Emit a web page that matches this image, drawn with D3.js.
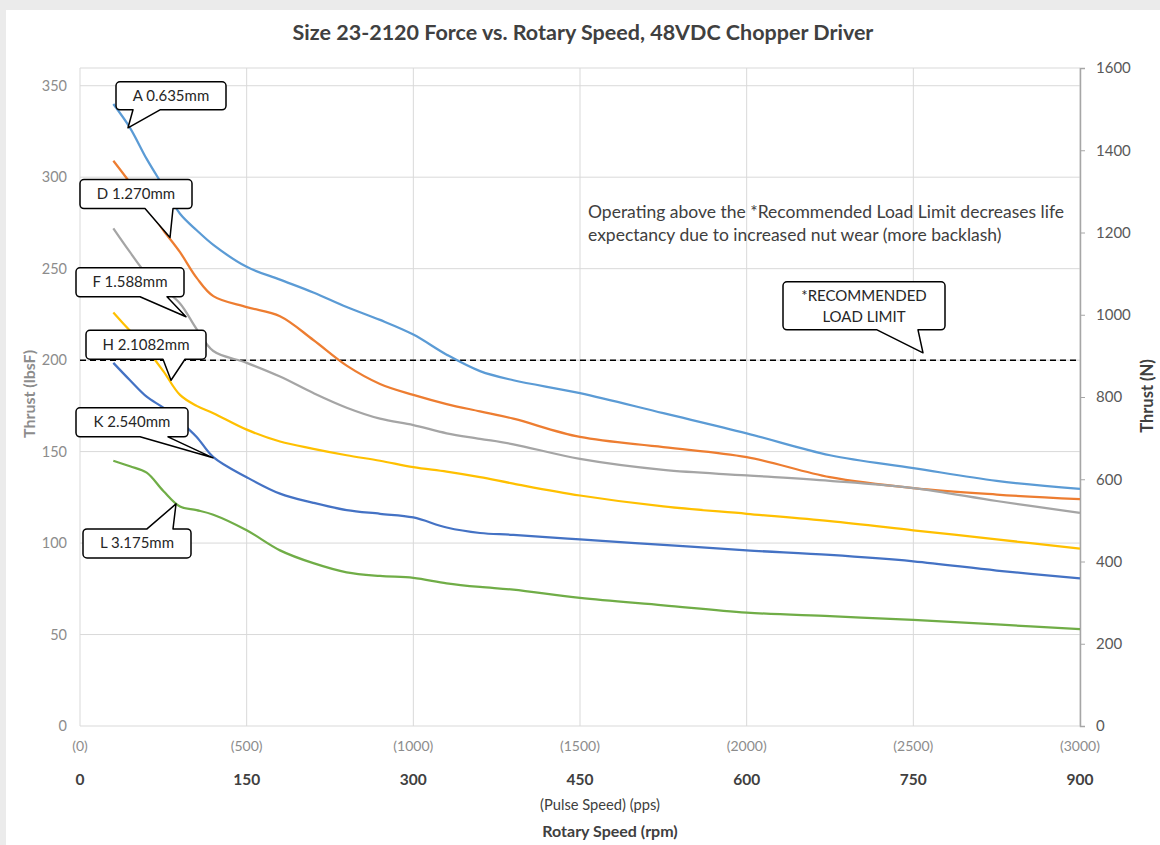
<!DOCTYPE html>
<html>
<head>
<meta charset="utf-8">
<script src="https://cdn.jsdelivr.net/npm/d3@7"></script>
<style>
  html, body { margin: 0; padding: 0; background: #ebebeb; }
  #chart { position: absolute; left: 6px; top: 10px; width: 1154px; height: 835px; background: #fff; }
  text { font-family: Lato, "Open Sans", sans-serif; }
</style>
</head>
<body>
<div id="chart"></div>
<script>
// speeds in pulses per second (pps) shared by all series
var pps = [100, 150, 200, 250, 300, 350, 400, 500, 600, 700, 800, 900, 1000, 1100, 1200, 1300, 1500, 1750, 2000, 2250, 2500, 2750, 3000];

// thrust in lbsF
var seriesA = [340, 327, 310, 295, 280, 271, 263, 251, 244, 237, 229, 222, 214, 203, 194, 189, 182, 171, 160, 148, 141, 134, 129.6];
var seriesD = [309, 297, 284, 271, 259, 245, 235, 229, 224, 211, 197, 187, 181, 176, 172, 168, 158, 152.5, 147, 136, 130, 126.5, 124];
var seriesF = [272, 259, 247, 239, 231, 217, 205, 198.5, 191, 182, 174, 168, 164.5, 160, 157, 154, 146, 140, 137, 134, 130, 123, 116.5];
var seriesH = [226, 216, 206, 194, 181, 175, 171, 162, 155.5, 151.5, 148, 145, 141.5, 139, 136, 132.5, 126, 120, 116, 112, 107, 102, 97];
var seriesK = [198.5, 189, 180, 174, 166.5, 158, 147, 136, 127, 122, 118, 116, 114, 108.5, 105.5, 104.5, 102, 99, 96, 93.5, 90, 85, 80.7];
var seriesL = [145, 142, 138.5, 128.5, 120, 118, 115.5, 107, 96, 89, 84, 82, 81, 78, 76, 74.5, 70, 66, 62, 60, 58, 55.5, 53];

var seriesNames = ["A 0.635mm", "D 1.270mm", "F 1.588mm", "H 2.1082mm", "K 2.540mm", "L 3.175mm"];
var seriesColors = ["#5b9bd5", "#ed7d31", "#a5a5a5", "#ffc000", "#4472c4", "#70ad47"];

var leftTicks = [0, 50, 100, 150, 200, 250, 300, 350];
var rightTicks = [0, 200, 400, 600, 800, 1000, 1200, 1400, 1600];
var ppsTicks = [0, 500, 1000, 1500, 2000, 2500, 3000];
var rpmPerPps = 0.3;
var loadLimit = 200;
var lbsPerN = 1 / 4.44822;

// callout anchors: [series label, pps, lbsF]
var callouts = [
  ["A 0.635mm", 144, 327],
  ["D 1.270mm", 270, 267],
  ["F 1.588mm", 318, 223.7],
  ["H 2.1082mm", 273, 189],
  ["K 2.540mm", 399, 146.6],
  ["L 3.175mm", 288, 121.4]
];

var svg = d3.select("#chart").append("svg")
    .attr("width", 1154)
    .attr("height", 835);

// work in page coordinates
var g = svg.append("g").attr("transform", "translate(-6,-10)");

var plotL = 80, plotR = 1080, plotT = 68, plotB = 726;

var x = d3.scaleLinear().domain([0, 3000]).range([plotL, plotR]);
var y = d3.scaleLinear().domain([0, 1600 * lbsPerN]).range([plotB, plotT]);
var yN = d3.scaleLinear().domain([0, 1600]).range([plotB, plotT]);

// grid
g.append("g").selectAll("line").data(leftTicks).enter().append("line")
    .attr("x1", plotL).attr("x2", plotR)
    .attr("y1", function(d){ return y(d); }).attr("y2", function(d){ return y(d); })
    .attr("stroke", "#d9d9d9").attr("stroke-width", 1);
g.append("line").attr("x1", plotL).attr("x2", plotR).attr("y1", plotT).attr("y2", plotT)
    .attr("stroke", "#d9d9d9");
g.append("g").selectAll("line").data(ppsTicks).enter().append("line")
    .attr("x1", function(d){ return x(d); }).attr("x2", function(d){ return x(d); })
    .attr("y1", plotT).attr("y2", plotB)
    .attr("stroke", "#d9d9d9").attr("stroke-width", 1);

// left tick labels
g.append("g").selectAll("text").data(leftTicks).enter().append("text")
    .attr("x", 67).attr("y", function(d){ return y(d) + 5; })
    .attr("text-anchor", "end").attr("font-size", 14.5).attr("fill", "#8c8c8c")
    .text(function(d){ return d; });

// right axis
var yAxisR = d3.axisRight(yN).tickValues(rightTicks).tickSize(5).tickPadding(11)
    .tickFormat(function(d){ return d; });
var gR = g.append("g").attr("transform", "translate(" + plotR + ",0)").call(yAxisR);
gR.select(".domain").attr("stroke", "#a6a6a6").attr("stroke-width", 1.5);
gR.selectAll(".tick line").attr("stroke", "#a6a6a6");
gR.selectAll(".tick text").attr("font-size", 15).attr("fill", "#595959")
    .attr("font-family", "Lato, 'Open Sans', sans-serif");

// bottom labels
g.append("g").selectAll("text").data(ppsTicks).enter().append("text")
    .attr("x", function(d){ return x(d); }).attr("y", 751)
    .attr("text-anchor", "middle").attr("font-size", 14).attr("fill", "#8c8c8c")
    .text(function(d){ return "(" + d + ")"; });
g.append("g").selectAll("text").data(ppsTicks).enter().append("text")
    .attr("x", function(d){ return x(d); }).attr("y", 785)
    .attr("text-anchor", "middle").attr("font-size", 15.5).attr("font-weight", "bold").attr("fill", "#404040")
    .text(function(d){ return d * rpmPerPps; });

// axis titles
g.append("text").attr("x", 600).attr("y", 810).attr("text-anchor", "middle")
    .attr("font-size", 14.7).attr("fill", "#404040").text("(Pulse Speed) (pps)");
g.append("text").attr("x", 610).attr("y", 837).attr("text-anchor", "middle")
    .attr("font-size", 16).attr("font-weight", "bold").attr("fill", "#404040").text("Rotary Speed (rpm)");
g.append("text").attr("transform", "translate(35,394) rotate(-90)").attr("text-anchor", "middle")
    .attr("font-size", 16).attr("font-weight", "bold").attr("fill", "#8c8c8c").text("Thrust (lbsF)");
g.append("text").attr("transform", "translate(1153,396) rotate(-90)").attr("text-anchor", "middle")
    .attr("font-size", 16.5).attr("font-weight", "bold").attr("fill", "#404040").text("Thrust (N)");

// title
g.append("text").attr("x", 583).attr("y", 40).attr("text-anchor", "middle")
    .attr("font-size", 21.5).attr("font-weight", "bold").attr("fill", "#404040")
    .text("Size 23-2120 Force vs. Rotary Speed, 48VDC Chopper Driver");

// load limit line
g.append("line").attr("x1", plotL).attr("x2", plotR)
    .attr("y1", y(loadLimit)).attr("y2", y(loadLimit))
    .attr("stroke", "#000").attr("stroke-width", 1.5).attr("stroke-dasharray", "6,4");

// curves
var line = d3.line()
    .x(function(d){ return x(d[0]); })
    .y(function(d){ return y(d[1]); })
    .curve(d3.curveCatmullRom.alpha(0.5));

var allSeries = [seriesA, seriesD, seriesF, seriesH, seriesK, seriesL];
allSeries.forEach(function(s, i){
    g.append("path")
        .datum(pps.map(function(p, j){ return [p, s[j]]; }))
        .attr("d", line)
        .attr("fill", "none")
        .attr("stroke", seriesColors[i])
        .attr("stroke-width", 2.25);
});

// callout box shape: box offsets from tip, pointer base offsets, side of box
function calloutPath(tx, ty, box, base, side){
    var x0 = tx + box[0], y0 = ty + box[1], x1 = tx + box[2], y1 = ty + box[3], r = 4;
    var b1 = tx + base[0], b2 = tx + base[1];
    var p = "M" + (x0 + r) + "," + y0;
    if (side == "top") p += "H" + b1 + "L" + tx + "," + ty + "L" + b2 + "," + y0;
    p += "H" + (x1 - r) + "A" + r + "," + r + " 0 0 1 " + x1 + "," + (y0 + r)
       + "V" + (y1 - r) + "A" + r + "," + r + " 0 0 1 " + (x1 - r) + "," + y1;
    if (side == "bottom") p += "H" + b2 + "L" + tx + "," + ty + "L" + b1 + "," + y1;
    p += "H" + (x0 + r) + "A" + r + "," + r + " 0 0 1 " + x0 + "," + (y1 - r)
       + "V" + (y0 + r) + "A" + r + "," + r + " 0 0 1 " + (x0 + r) + "," + y0 + "Z";
    return p;
}

var calloutLayout = {
    "A 0.635mm": {box: [-12, -46, 98, -18], base: [5, 32], side: "bottom"},
    "D 1.270mm": {box: [-90, -58, 22, -29], base: [-25, 3], side: "bottom"},
    "F 1.588mm": {box: [-110, -49, -2, -20], base: [-46, -19], side: "bottom"},
    "H 2.1082mm": {box: [-85, -50, 35, -21], base: [-8, 14], side: "bottom"},
    "K 2.540mm": {box: [-137, -50, -25, -21], base: [-73, -45], side: "bottom"},
    "L 3.175mm": {box: [-93, 25, 15, 54], base: [-29, -3], side: "top"}
};

callouts.forEach(function(c){
    var tx = x(c[1]), ty = y(c[2]), L = calloutLayout[c[0]];
    g.append("path").attr("d", calloutPath(tx, ty, L.box, L.base, L.side))
        .attr("fill", "#fff").attr("stroke", "#000").attr("stroke-width", 1.5)
        .attr("stroke-linejoin", "round");
    g.append("text")
        .attr("x", tx + (L.box[0] + L.box[2]) / 2)
        .attr("y", ty + (L.box[1] + L.box[3]) / 2 + 5)
        .attr("text-anchor", "middle").attr("font-size", 15).attr("fill", "#262626")
        .text(c[0]);
});

// recommended load limit callout
var recX = x(2529), recY = y(204);
g.append("path").attr("d", calloutPath(recX, recY, [-140, -71, 22, -23], [-46, -5], "bottom"))
    .attr("fill", "#fff").attr("stroke", "#000").attr("stroke-width", 1.5).attr("stroke-linejoin", "round");
g.append("text").attr("x", recX - 59).attr("y", recY - 52).attr("text-anchor", "middle")
    .attr("font-size", 15).attr("fill", "#262626").text("*RECOMMENDED");
g.append("text").attr("x", recX - 59).attr("y", recY - 31).attr("text-anchor", "middle")
    .attr("font-size", 15).attr("fill", "#262626").text("LOAD LIMIT");

// note
var note = g.append("text").attr("x", x(1524)).attr("y", y(277.5))
    .attr("font-size", 17.5).attr("fill", "#404040");
note.append("tspan").attr("x", x(1524)).text("Operating above the *Recommended Load Limit decreases life");
note.append("tspan").attr("x", x(1524)).attr("dy", 23).text("expectancy due to increased nut wear (more backlash)");
</script>
</body>
</html>
